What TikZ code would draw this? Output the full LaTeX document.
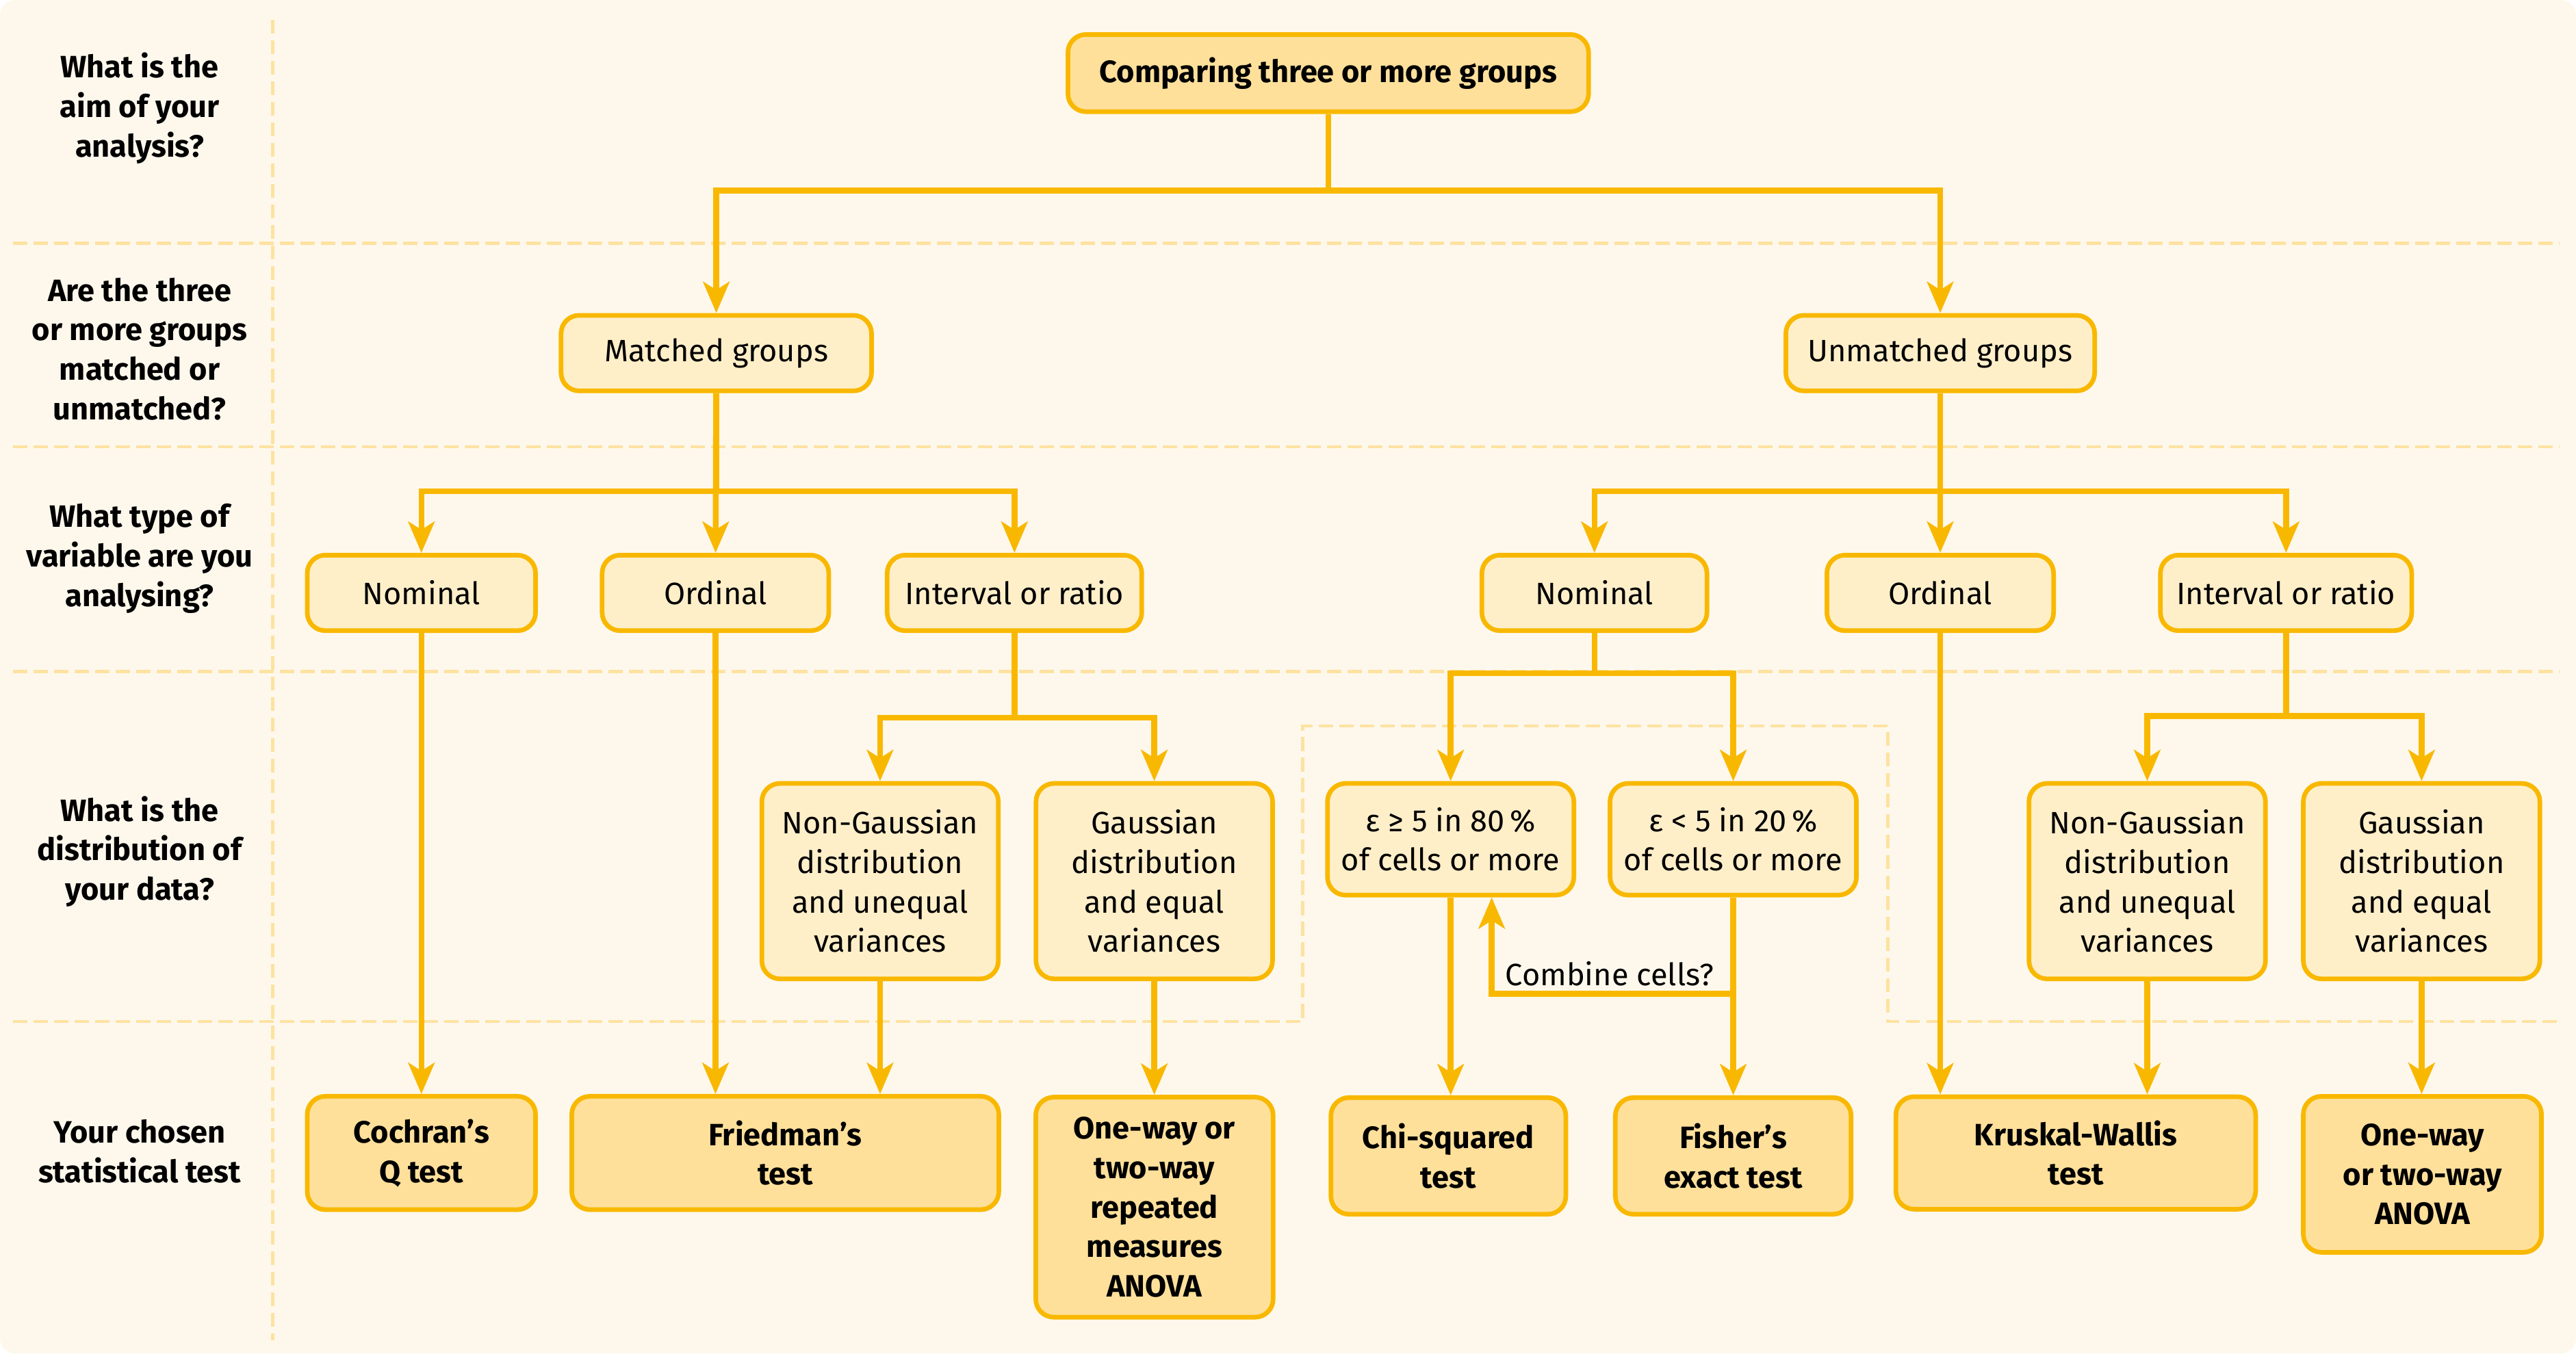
\documentclass[tikz,border=0pt]{standalone}
\usepackage{fontspec}
\setmainfont{Fira Sans}
\usetikzlibrary{arrows.meta}
\definecolor{paper}{HTML}{FEF8EC}
\definecolor{gold}{HTML}{F9B800}
\definecolor{cream}{HTML}{FFEFC9}
\definecolor{butter}{HTML}{FFE09B}
\definecolor{rule}{HTML}{FDE2A0}

\begin{document}
\begin{tikzpicture}[x=0.02cm, y=-0.02cm,
  box/.style={draw=gold, line width=1.6pt, rounded corners=0.22cm, align=center, inner sep=2pt, font=\fontsize{10.7}{13.7}\selectfont},
  choice/.style={box, fill=cream},
  result/.style={box, fill=butter, font=\fontsize{10.7}{13.7}\selectfont\bfseries},
  question/.style={align=center, font=\fontsize{10.7}{13.7}\selectfont\bfseries},
  link/.style={draw=gold, line width=2pt, -{Stealth[length=0.38cm, width=0.32cm, inset=0.1cm]}},
  grid/.style={draw=rule, line width=1.1pt, dash pattern=on 0.17cm off 0.08cm}]
\useasboundingbox (0,0) rectangle (1568,824);
\fill[paper, rounded corners=0.18cm] (0,0) rectangle (1568,824);

% rows and columns
\draw[grid] (166,12) -- (166,816);
\draw[grid] (8,148) -- (1558,148);
\draw[grid] (8,272) -- (1558,272);
\draw[grid] (8,409) -- (1558,409);
\draw[grid] (8,622) -- (793,622) -- (793,442) -- (1149,442) -- (1149,622) -- (1558,622);

% questions
\node[question] (q1) at (85,66) {What is the\\aim of your\\analysis?};
\node[question] (q2) at (85,212.5) {Are the three\\or more groups\\matched or\\unmatched?};
\node[question] (q3) at (85,340) {What type of\\variable are you\\analysing?};
\node[question] (q4) at (85,518.5) {What is the\\distribution of\\your data?};
\node[question] (q5) at (85,701) {Your chosen\\statistical test};

% aim and groups
\node[result, minimum width=6.34cm, minimum height=0.94cm] (aim) at (808.5,44.5) {Comparing three or more groups};
\node[choice, minimum width=3.78cm, minimum height=0.92cm] (matched) at (436,215) {Matched groups};
\node[choice, minimum width=3.76cm, minimum height=0.92cm] (unmatched) at (1181,215) {Unmatched groups};

% variable type
\node[choice, minimum width=2.78cm, minimum height=0.92cm] (nomL) at (256.5,361) {Nominal};
\node[choice, minimum width=2.76cm, minimum height=0.92cm] (ordL) at (435.5,361) {Ordinal};
\node[choice, minimum width=3.1cm, minimum height=0.92cm] (intL) at (617.5,361) {Interval or ratio};
\node[choice, minimum width=2.74cm, minimum height=0.92cm] (nomR) at (970.5,361) {Nominal};
\node[choice, minimum width=2.76cm, minimum height=0.92cm] (ordR) at (1181,361) {Ordinal};
\node[choice, minimum width=3.06cm, minimum height=0.92cm] (intR) at (1391.5,361) {Interval or ratio};

% distribution
\node[choice, minimum width=2.88cm, minimum height=2.38cm] (ngL) at (535.7,536.5) {Non-Gaussian\\distribution\\and unequal\\variances};
\node[choice, minimum width=2.88cm, minimum height=2.38cm] (gL) at (702.6,536.5) {Gaussian\\distribution\\and equal\\variances};
\node[choice, minimum width=3cm, minimum height=1.36cm] (epsA) at (883,511) {ε ≥ 5 in 80\,\%\\of cells or more};
\node[choice, minimum width=3cm, minimum height=1.36cm] (epsB) at (1055,511) {ε < 5 in 20\,\%\\of cells or more};
\node[choice, minimum width=2.88cm, minimum height=2.38cm] (ngR) at (1307,536.5) {Non-Gaussian\\distribution\\and unequal\\variances};
\node[choice, minimum width=2.88cm, minimum height=2.38cm] (gR) at (1474,536.5) {Gaussian\\distribution\\and equal\\variances};

% tests
\node[result, minimum width=2.78cm, minimum height=1.38cm] (cochran) at (256.5,702) {Cochran's\\Q test};
\node[result, minimum width=5.2cm, minimum height=1.38cm] (friedman) at (478,702) {Friedman's\\test};
\node[result, minimum width=2.89cm, minimum height=2.68cm] (rmanova) at (702.7,735) {One-way or\\two-way\\repeated\\measures\\ANOVA};
\node[result, minimum width=2.86cm, minimum height=1.42cm] (chi) at (881.6,703.8) {Chi-squared\\test};
\node[result, minimum width=2.87cm, minimum height=1.42cm] (fisher) at (1055,703.8) {Fisher's\\exact test};
\node[result, minimum width=4.38cm, minimum height=1.37cm] (kruskal) at (1263.5,702) {Kruskal-Wallis\\test};
\node[result, minimum width=2.9cm, minimum height=1.9cm] (anova) at (1474.5,715) {One-way\\or two-way\\ANOVA};

\node[anchor=base west, inner sep=0pt, font=\fontsize{10.7}{13.7}\selectfont] (combine) at (916,600) {Combine cells?};

% connectors
\draw[link] (aim) -- (808.5,116) -| (matched);
\draw[link] (aim) -- (808.5,116) -| (unmatched);

\draw[link] (matched) -- (436,299) -| (nomL);
\draw[link] (matched) -- (ordL);
\draw[link] (matched) -- (436,299) -| (intL);
\draw[link] (unmatched) -- (1181,299) -| (nomR);
\draw[link] (unmatched) -- (ordR);
\draw[link] (unmatched) -- (1181,299) -| (intR);

\draw[link] (nomL) -- (cochran);
\draw[link] (ordL) -- (ordL |- friedman.north);
\draw[link] (intL) -- (617.5,437) -| (ngL);
\draw[link] (intL) -- (617.5,437) -| (gL);
\draw[link] (ngL) -- (ngL |- friedman.north);
\draw[link] (gL) -- (gL |- rmanova.north);

\draw[link] (nomR) -- (970.5,410) -| (epsA);
\draw[link] (nomR) -- (970.5,410) -| (epsB);
\draw[link] (epsA) -- (epsA |- chi.north);
\draw[link] (epsB) -- (fisher);
\coordinate (split) at (1055,605);
\draw[link] (split) -| ([xshift=0.5cm]epsA.south);

\draw[link] (ordR) -- (ordR |- kruskal.north);
\draw[link] (intR) -- (1391.5,436) -| (ngR);
\draw[link] (intR) -- (1391.5,436) -| (gR);
\draw[link] (ngR) -- (ngR |- kruskal.north);
\draw[link] (gR) -- (gR |- anova.north);
\end{tikzpicture}
\end{document}
